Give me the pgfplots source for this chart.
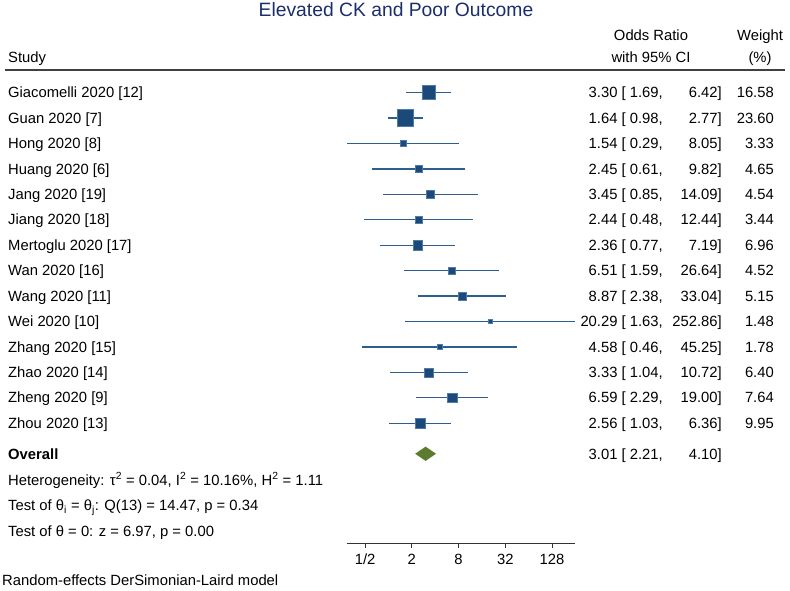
\documentclass[border=0pt]{standalone}
\usepackage{pgfplots}
\pgfplotsset{compat=1.18}
\usepackage{pgfplotstable}
\usepackage{fontspec}
\setmainfont{Liberation Sans}
\definecolor{sqblue}{HTML}{1B4A7A}
\definecolor{sqedge}{HTML}{4F7BA6}
\definecolor{ciblue}{HTML}{2E5E8E}
\definecolor{dgreen}{HTML}{5B7B2F}
\definecolor{titleblue}{HTML}{1C2D6B}
\newcommand\bodyf{\fontsize{14.8}{17}\selectfont}

\pgfplotstableread[col sep=comma]{
study,or,lo,hi,w
Giacomelli 2020 [12],3.30,1.69,6.42,16.58
Guan 2020 [7],1.64,0.98,2.77,23.60
Hong 2020 [8],1.54,0.29,8.05,3.33
Huang 2020 [6],2.45,0.61,9.82,4.65
Jang 2020 [19],3.45,0.85,14.09,4.54
Jiang 2020 [18],2.44,0.48,12.44,3.44
Mertoglu 2020 [17],2.36,0.77,7.19,6.96
Wan 2020 [16],6.51,1.59,26.64,4.52
Wang 2020 [11],8.87,2.38,33.04,5.15
Wei 2020 [10],20.29,1.63,252.86,1.48
Zhang 2020 [15],4.58,0.46,45.25,1.78
Zhao 2020 [14],3.33,1.04,10.72,6.40
Zheng 2020 [9],6.59,2.29,19.00,7.64
Zhou 2020 [13],2.56,1.03,6.36,9.95
}\studies

\begin{document}
\begin{tikzpicture}[every node/.style={inner sep=0pt, font=\bodyf}]
\path[use as bounding box] (0,0) rectangle (790pt,-591pt);

% header
\node[anchor=base, font=\fontsize{19.3}{22}\selectfont, text=titleblue] at (396pt,-17pt) {Elevated CK and Poor Outcome};
\node[anchor=base west] at (8pt,-63pt) {Study};
\node[anchor=base] at (651pt,-41pt) {Odds Ratio};
\node[anchor=base] at (651pt,-63pt) {with 95\% CI};
\node[anchor=base] at (760pt,-41pt) {Weight};
\node[anchor=base] at (760pt,-63pt) {(\%)};
\draw[black!75, line width=1.8pt] (5pt,-70pt) -- (785pt,-70pt);

\begin{axis}[
  at={(346.7pt,-543.3pt)}, anchor=south west,
  scale only axis, width=228.3pt, height=476.2pt,
  xmode=log, log basis x=2,
  xmin=0.29, xmax=252.86,
  ymin=0, ymax=18.72, y dir=reverse,
  axis x line*=bottom, axis y line=none,
  x axis line style={-, black!80, line width=0.9pt},
  xtick={0.5,2,8,32,128},
  xticklabels={1/2,2,8,32,128},
  xticklabel style={font=\bodyf, inner sep=0pt, yshift=-5.5pt},
  tick align=outside, major tick length=5pt,
  tick style={black!80, line width=0.8pt},
  minor tick num=0,
  clip=false,
]
% confidence intervals
\addplot[only marks, mark=none,
  error bars/.cd, x dir=both, x explicit, error mark=none,
  error bar style={ciblue, line width=1.3pt}]
  table[x=or, y expr=\coordindex+1,
        x error plus expr=\thisrow{hi}-\thisrow{or},
        x error minus expr=\thisrow{or}-\thisrow{lo}] {\studies};
% study boxes, area by weight
\addplot[scatter, only marks, mark=square*,
  scatter/use mapped color={fill=sqblue, draw=sqedge},
  mark options={line width=0.4pt},
  visualization depends on={8.35*sqrt(\thisrow{w}/23.6) \as \msz},
  scatter/@pre marker code/.append style={/tikz/mark size=\msz pt}]
  table[x=or, y expr=\coordindex+1] {\studies};
% overall
\addplot[fill=dgreen, draw=none] coordinates {
  (2.21,15.2) (3.01,14.92) (4.10,15.2) (3.01,15.48)
} -- cycle;
\end{axis}

% table columns
\pgfplotstablegetrowsof{\studies}
\pgfmathtruncatemacro\lastrow{\pgfplotsretval-1}
\foreach \i in {0,...,\lastrow}{
  \pgfmathsetmacro\yb{-(97.7+\i*25.44)}
  \pgfplotstablegetelem{\i}{study}\of\studies
  \node[anchor=base west] at (8pt,\yb pt) {\pgfplotsretval};
  \pgfplotstablegetelem{\i}{or}\of\studies \let\vor\pgfplotsretval
  \pgfplotstablegetelem{\i}{lo}\of\studies \let\vlo\pgfplotsretval
  \node[anchor=base east] at (663pt,\yb pt) {\vor\ [ \vlo,};
  \pgfplotstablegetelem{\i}{hi}\of\studies
  \node[anchor=base east] at (722pt,\yb pt) {\pgfplotsretval]};
  \pgfplotstablegetelem{\i}{w}\of\studies
  \node[anchor=base east] at (774pt,\yb pt) {\pgfplotsretval};
}

\node[anchor=base west, font=\bodyf\bfseries] at (8pt,-459pt) {Overall};
\node[anchor=base east] at (663pt,-459pt) {3.01 [ 2.21,};
\node[anchor=base east] at (722pt,-459pt) {4.10]};
\node[anchor=base west] at (8pt,-485pt) {Heterogeneity: τ\textsuperscript{2} = 0.04, I\textsuperscript{2} = 10.16\%, H\textsuperscript{2} = 1.11};
\node[anchor=base west] at (8pt,-510.5pt) {Test of θ\textsubscript{i} = θ\textsubscript{j}: Q(13) = 14.47, p = 0.34};
\node[anchor=base west] at (8pt,-536pt) {Test of θ = 0: z = 6.97, p = 0.00};
\node[anchor=base west] at (2pt,-585pt) {Random-effects DerSimonian-Laird model};
\end{tikzpicture}
\end{document}
